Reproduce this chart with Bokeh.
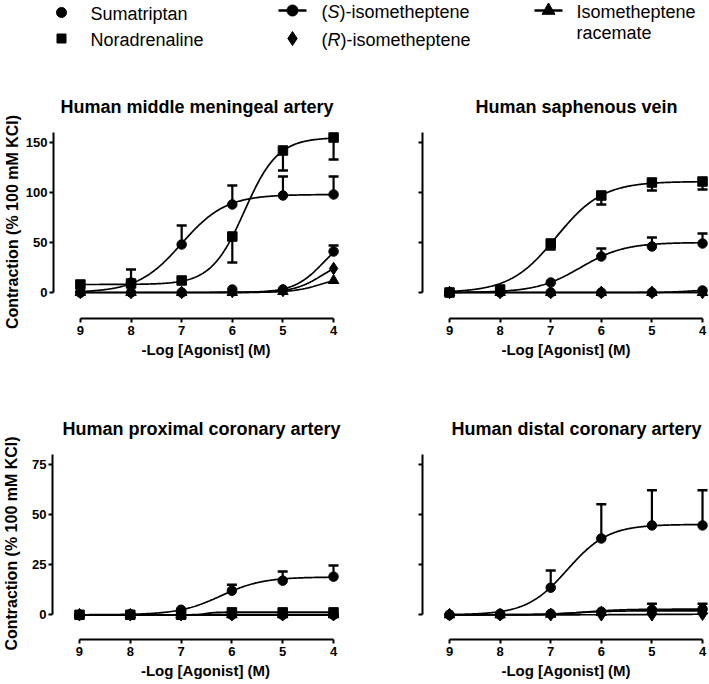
import numpy as np
from bokeh.plotting import figure
from bokeh.models import Range1d, ColumnDataSource, Whisker, TeeHead, FixedTicker
from bokeh.layouts import column, row
from bokeh.embed import file_html
from bokeh.resources import INLINE
from bokeh.core.properties import value

# ---------------- data ----------------
LOG_AGONIST = [9, 8, 7, 6, 5, 4]          # -Log [Agonist] (M)
SERIES = ["Sumatriptan", "Noradrenaline", "(S)-isometheptene",
          "(R)-isometheptene", "Isometheptene racemate"]
MARKERS = ["circle", "square", "circle", "diamond", "triangle"]
MARKER_SIZES = [9.5, 9.5, 9.5, 12.5, 10.5]

# Human middle meningeal artery
MMA_SUMA = [0, 10, 48, 88, 97, 98]
MMA_SUMA_SEM = [0, 13, 19, 19, 19, 18]
MMA_NOR = [8, 9, 12, 56, 142, 155]
MMA_NOR_SEM = [0, 0, 0, 26, 20, 22]
MMA_S = [0, 0, 0, 3, 3, 41]
MMA_S_SEM = [0, 0, 0, 0, 0, 6]
MMA_R = [0, 0, 0, 1, 2, 24]
MMA_RAC = [0, 0, 0, 0, 1, 12]
# sigmoid fits: bottom, top, pEC50, hill
MMA_FITS = [(0, 98, 7.0, 1.0), (8, 155, 5.76, 1.32), (0, 60, 4.2, 1.5),
            (0, 36, 4.2, 1.5), (0, 18, 4.2, 1.5)]
MMA_ERR_DIR = ["up", "down", "up", "up", "up"]

# Human saphenous vein
HSV_SUMA = [0, 1, 10, 36, 46, 49]
HSV_SUMA_SEM = [0, 0, 0, 8, 9, 10]
HSV_NOR = [0, 3, 49, 97, 110, 111]
HSV_NOR_SEM = [0, 0, 6, 9, 8, 8]
HSV_S = [0, 0, 0, 0, 0, 2]
HSV_R = [0, 0, 0, 0, 0, 0]
HSV_RAC = [0, 0, 0, 0, 0, 0]
HSV_FITS = [(0, 50, 6.41, 1.0), (0, 111, 6.89, 0.95), (0, 2.5, 4.3, 2.0),
            (0, 0, 6.0, 1.0), (0, 0, 6.0, 1.0)]
HSV_ERR_DIR = ["up", "down", "up", "up", "up"]

# Human proximal coronary artery
PCA_SUMA = [0, 0.3, 2.5, 12, 17, 19]
PCA_SUMA_SEM = [0, 0, 0, 3, 4.5, 5.5]
PCA_NOR = [0, 0, 0, 1.2, 1.2, 1.2]
PCA_S = [0, 0, 0, 0, 0, 0]
PCA_R = [0, 0, 0, 0, 0, 0]
PCA_RAC = [0, 0, 0, 0, 0, 0]
PCA_FITS = [(0, 18.8, 6.22, 1.05), (0, 1.3, 6.5, 5.0), (0, 0, 6.0, 1.0),
            (0, 0, 6.0, 1.0), (0, 0, 6.0, 1.0)]
PCA_ERR_DIR = ["up", "up", "up", "up", "up"]

# Human distal coronary artery
DCA_SUMA = [0, 0.5, 13.5, 38, 44.5, 44.5]
DCA_SUMA_SEM = [0, 0, 8.5, 17, 17.5, 17.5]
DCA_S = [0, 0, 0.5, 1.5, 2.5, 2.8]
DCA_S_SEM = [0, 0, 0, 0, 3, 2.7]
DCA_R = [0, 0, 0, 0, 0, 0.3]
DCA_RAC = [0, 0, 0.3, 1.2, 1.8, 2.0]
DCA_FITS = [(0, 45, 6.67, 1.08), None, (0, 2.8, 6.3, 1.2),
            (0, 0.3, 5.0, 1.0), (0, 2.0, 6.5, 1.2)]
DCA_ERR_DIR = ["up", "up", "up", "up", "up"]

ZERO6 = [0, 0, 0, 0, 0, 0]

FONT = "Liberation Sans"


def sigmoid(x, fit):
    bottom, top, p50, hill = fit
    return bottom + (top - bottom) / (1.0 + 10 ** (hill * (x - p50)))


def make_panel(title, title_offset, means, sems, dirs, fits, band_series,
               xr, yr, ybounds, yticks, ylabel, width, height,
               mb_left, mb_right, mb_top, mb_bottom, ylabel_standoff=2):
    p = figure(width=width, height=height, x_range=Range1d(*xr), y_range=Range1d(*yr),
               output_backend="svg", toolbar_location=None,
               min_border_left=mb_left, min_border_right=mb_right,
               min_border_top=mb_top, min_border_bottom=mb_bottom)
    p.title.text = title
    p.title.align = "left"
    p.title.offset = title_offset
    p.title.standoff = 17
    p.title.text_font = FONT
    p.title.text_font_size = "18px"
    p.title.text_font_style = "bold"
    p.title.text_color = "black"
    p.outline_line_color = None
    p.grid.visible = False
    p.background_fill_color = "white"
    p.border_fill_color = "white"

    for ax in (p.xaxis[0], p.yaxis[0]):
        ax.axis_line_width = 2
        ax.axis_line_color = "black"
        ax.major_tick_line_width = 2
        ax.major_tick_line_color = "black"
        ax.major_tick_in = 0
        ax.major_tick_out = 4
        ax.minor_tick_line_color = None
        ax.major_label_text_font = FONT
        ax.major_label_text_font_size = "13px"
        ax.major_label_text_font_style = "bold"
        ax.major_label_text_color = "black"
        ax.axis_label_text_font = FONT
        ax.axis_label_text_font_size = "15px"
        ax.axis_label_text_font_style = "bold"
        ax.axis_label_text_color = "black"

    xa = p.xaxis[0]
    xa.bounds = (min(LOG_AGONIST), max(LOG_AGONIST))
    xa.ticker = FixedTicker(ticks=LOG_AGONIST)
    xa.major_label_standoff = 3
    xa.axis_label = "-Log [Agonist] (M)"
    xa.axis_label_standoff = 3

    ya = p.yaxis[0]
    ya.bounds = ybounds
    ya.ticker = FixedTicker(ticks=yticks)
    ya.major_label_standoff = 2
    if ylabel:
        ya.axis_label = "Contraction (% 100 mM KCl)"
        ya.axis_label_text_font_size = "16px"
        ya.axis_label_standoff = ylabel_standoff
    else:
        ya.major_label_overrides = {t: "" for t in yticks}

    xs = np.linspace(max(LOG_AGONIST), min(LOG_AGONIST), 300)
    # fitted curves
    for i, fit in enumerate(fits):
        if fit is None:
            continue
        ys = sigmoid(xs, fit)
        if i == band_series:
            p.varea(x=xs, y1=np.zeros_like(xs), y2=ys, fill_color="#9c9c9c")
        p.line(xs, ys, line_width=1.7, line_color="black")

    # error bars (one-sided, GraphPad style)
    for i, (m, s) in enumerate(zip(means, sems)):
        if m is None or s is None:
            continue
        idx = [k for k in range(len(LOG_AGONIST)) if s[k] > 0]
        if not idx:
            continue
        bx = [LOG_AGONIST[k] for k in idx]
        if dirs[i] == "up":
            lo = [m[k] for k in idx]
            hi = [m[k] + s[k] for k in idx]
            heads = dict(upper_head=TeeHead(size=10, line_width=2.5, line_color="black"),
                         lower_head=None)
        else:
            lo = [m[k] - s[k] for k in idx]
            hi = [m[k] for k in idx]
            heads = dict(lower_head=TeeHead(size=10, line_width=2.5, line_color="black"),
                         upper_head=None)
        src = ColumnDataSource(dict(x=bx, lo=lo, hi=hi))
        w = Whisker(base="x", lower="lo", upper="hi", source=src, dimension="height",
                    line_width=2.2, line_color="black", **heads)
        p.add_layout(w)

    # data points
    for i, m in enumerate(means):
        if m is None:
            continue
        p.scatter(LOG_AGONIST, m, marker=MARKERS[i], size=MARKER_SIZES[i],
                  fill_color="black", line_color="black")
    return p


# ---------------- legend ----------------
leg = figure(width=709, height=80, x_range=Range1d(0, 709), y_range=Range1d(80, 0),
             output_backend="svg", toolbar_location=None,
             min_border_left=0, min_border_right=0, min_border_top=0, min_border_bottom=0)
leg.axis.visible = False
leg.grid.visible = False
leg.outline_line_color = None

LEG_MARK_X = [61, 61, 292, 292, 548]
LEG_MARK_Y = [12, 38, 10, 38, 10]
LEG_MARK_SIZE = [10, 9, 11, 14, 13]
LEG_LINE = [False, False, True, False, True]
for i in range(5):
    if LEG_LINE[i]:
        leg.segment(x0=[LEG_MARK_X[i] - 14], y0=[LEG_MARK_Y[i]], x1=[LEG_MARK_X[i] + 14],
                    y1=[LEG_MARK_Y[i]], line_width=2.5, line_color="black")
    leg.scatter([LEG_MARK_X[i]], [LEG_MARK_Y[i]], marker=MARKERS[i], size=LEG_MARK_SIZE[i],
                fill_color="black", line_color="black")

LEG_FS = "18px"


def leg_text(x, y, t, style="normal"):
    leg.text(x=[x], y=[y], text=[t], text_font=value(FONT), text_font_size=LEG_FS,
             text_font_style=style, text_baseline="middle", text_align="left",
             text_color="black")


leg_text(90, 13, "Sumatriptan")
leg_text(90, 39, "Noradrenaline")
leg_text(321, 11, "(")
leg_text(327, 11, "S", "italic")
leg_text(339, 11, ")-isometheptene")
leg_text(321, 39, "(")
leg_text(327, 39, "R", "italic")
leg_text(340, 39, ")-isometheptene")
leg_text(576, 11, "Isometheptene")
leg_text(576, 32, "racemate")

# ---------------- panels ----------------
TOP_YR = (-26, 167)
BOT_YR = (-12.3, 83.3)
LEFT_XR = (9.531, 3.508)
RIGHT_XR = (9.534, 3.862)

p1 = make_panel("Human middle meningeal artery", 7,
                [MMA_SUMA, MMA_NOR, MMA_S, MMA_R, MMA_RAC],
                [MMA_SUMA_SEM, MMA_NOR_SEM, MMA_S_SEM, ZERO6, ZERO6],
                MMA_ERR_DIR, MMA_FITS, None,
                LEFT_XR, TOP_YR, (0, 160), [0, 50, 100, 150], True,
                380, 320, 52, 22, 45, 82)
p2 = make_panel("Human saphenous vein", 53,
                [HSV_SUMA, HSV_NOR, HSV_S, HSV_R, HSV_RAC],
                [HSV_SUMA_SEM, HSV_NOR_SEM, ZERO6, ZERO6, ZERO6],
                HSV_ERR_DIR, HSV_FITS, None,
                RIGHT_XR, TOP_YR, (0, 160), [0, 50, 100, 150], False,
                329, 320, 42, 0, 45, 82)
p3 = make_panel("Human proximal coronary artery", 10,
                [PCA_SUMA, PCA_NOR, PCA_S, PCA_R, PCA_RAC],
                [PCA_SUMA_SEM, ZERO6, ZERO6, ZERO6, ZERO6],
                PCA_ERR_DIR, PCA_FITS, 1,
                LEFT_XR, BOT_YR, (0, 80), [0, 25, 50, 75], True,
                380, 284, 52, 22, 47, 45, ylabel_standoff=9)
p4 = make_panel("Human distal coronary artery", 29,
                [DCA_SUMA, None, DCA_S, DCA_R, DCA_RAC],
                [DCA_SUMA_SEM, None, DCA_S_SEM, ZERO6, ZERO6],
                DCA_ERR_DIR, DCA_FITS, None,
                RIGHT_XR, BOT_YR, (0, 80), [0, 25, 50, 75], False,
                329, 284, 42, 0, 47, 45)

layout = column(leg, row(p1, p2), row(p3, p4))
open("out.html", "w").write(file_html(layout, INLINE))
